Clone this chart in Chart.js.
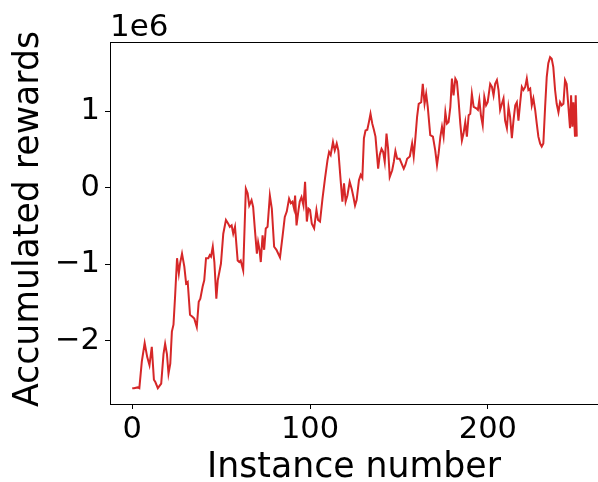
<!DOCTYPE html>
<html>
<head>
<meta charset="utf-8">
<script src="https://cdn.jsdelivr.net/npm/chart.js@4"></script>
<style>
    html, body { margin: 0; padding: 0; background: #fff; overflow: hidden; }
</style>
</head>
<body>
<canvas id="rewardsChart" width="610" height="482"></canvas>
<script>
// instance number of each sample
const instances = [
    0, 1, 3, 4, 5.4, 7, 8.4, 9.7, 11, 12.2, 13, 14.4, 16.3, 17.6, 18.5, 19.5, 20.4, 21.4, 22.3, 23.2,
    24.1, 25.2, 26.2, 26.9, 28, 29.3, 30.3, 31.2, 32.5, 34, 34.9, 36.3, 37.4, 38.3, 39.6, 40.5, 41.5, 42.8, 43.6, 44.3,
    45.3, 46.2, 47.3, 48.1, 49, 49.9, 51.2, 52.7, 54, 54.9, 55.9, 56.8, 57.8, 59.3, 60.2, 61, 62.4, 63.9, 64.9, 65.8,
    67.1, 68, 69, 70.1, 70.8, 71.6, 72.3, 73.3, 74.2, 75.1, 76.1, 77.4, 78.5, 79.8, 81.1, 83.1, 84.5, 85.8, 86.9, 88.2,
    89.2, 90.1, 91, 91.6, 92.4, 93.5, 94.2, 95.2, 96.3, 97.2, 98.2, 99.1, 100, 101, 102.3, 103.6, 104.5, 105.6, 107, 108.4,
    109.8, 110.7, 111.6, 112.9, 113.9, 115, 115.9, 117.2, 118.2, 119.1, 120, 121, 122.3, 123.4, 124.4, 125.3, 126.2, 127.5, 128.5, 129.4,
    130.3, 131.2, 132.2, 133.1, 134, 135, 135.9, 136.8, 138.3, 139.2, 140.2, 141.1, 142, 143, 143.9, 144.8, 146.2, 147.1, 148, 149,
    150.4, 151.8, 152.7, 153.6, 154.6, 156.1, 157.4, 158.3, 159.3, 160.2, 161.1, 162.5, 163.4, 164.4, 165.3, 166.2, 167.6, 169.1, 170.4, 171.4,
    172.3, 173.3, 174.2, 175.1, 176.1, 177, 177.9, 178.9, 179.8, 180.7, 181.7, 182.6, 183.5, 184.5, 185.4, 186.3, 187.3, 188.2, 189.2, 190.1,
    191, 192, 193.5, 194.4, 195.2, 196.1, 197.1, 198, 199, 199.9, 201.3, 202.3, 203.2, 204.1, 205.1, 206, 206.9, 207.9, 208.8, 209.7,
    210.7, 211.6, 212.5, 213.5, 214.4, 215.4, 216.3, 217.2, 218.2, 219.1, 220, 221, 221.9, 222.8, 223.8, 224.7, 225.6, 226.6, 227.5, 228.4,
    229.4, 230.3, 231.2, 232.2, 233.1, 234, 235, 235.9, 236.8, 237.8, 238.7, 239.7, 240.6, 241.5, 242.5, 243.4, 244.3, 245.3, 246.2, 246.8,
    247.5, 248.1, 249, 249.4, 250
];

// accumulated rewards, in units of 1e6
const rewards = [
    -2.62, -2.62, -2.61, -2.62, -2.27, -2.03, -2.21, -2.32, -2.08, -2.51, -2.54, -2.62, -2.56, -2.17, -2.04, -2.17, -2.43, -2.30, -1.88, -1.79,
    -1.42, -0.92, -1.12, -0.99, -0.86, -1.03, -1.25, -1.23, -1.66, -1.69, -1.71, -1.82, -1.49, -1.45, -1.29, -1.21, -0.92, -0.92, -0.88, -0.90,
    -0.77, -0.97, -1.45, -1.21, -1.10, -0.99, -0.60, -0.42, -0.47, -0.51, -0.49, -0.60, -0.51, -0.95, -0.97, -0.95, -1.08, -0.01, -0.07, -0.23,
    -0.16, -0.25, -0.55, -0.86, -0.71, -0.81, -0.97, -0.62, -0.81, -0.53, -0.51, -0.10, -0.27, -0.77, -0.81, -0.91, -0.64, -0.38, -0.31, -0.14,
    -0.20, -0.18, -0.27, -0.10, -0.49, -0.29, -0.18, -0.12, -0.23, 0.08, -0.44, -0.27, -0.29, -0.47, -0.53, -0.29, -0.42, -0.44, -0.14, 0.12,
    0.36, 0.47, 0.43, 0.60, 0.49, 0.58, 0.49, 0.10, -0.18, 0.06, -0.18, -0.10, 0.08, -0.01, -0.12, -0.23, -0.16, 0.10, 0.17, 0.13,
    0.65, 0.75, 0.76, 0.86, 0.97, 0.84, 0.76, 0.67, 0.25, 0.43, 0.51, 0.47, 0.34, 0.71, 0.51, 0.14, 0.23, 0.34, 0.48, 0.38,
    0.38, 0.30, 0.25, 0.30, 0.38, 0.41, 0.58, 0.41, 0.67, 0.93, 1.10, 1.12, 1.36, 1.10, 1.23, 1.06, 0.69, 0.67, 0.49, 0.30,
    0.45, 0.67, 0.80, 0.67, 0.99, 0.84, 0.86, 1.06, 1.43, 1.21, 1.43, 1.39, 1.15, 0.84, 0.62, 0.71, 0.86, 0.67, 0.95, 0.97,
    1.23, 1.06, 1.04, 1.02, 1.15, 0.95, 0.82, 1.19, 1.08, 1.12, 1.36, 1.32, 1.21, 1.36, 1.41, 1.28, 1.02, 1.10, 1.17, 0.88,
    0.78, 1.06, 0.93, 0.65, 0.88, 1.08, 1.12, 0.88, 1.12, 1.32, 1.28, 1.32, 1.43, 1.28, 1.30, 1.08, 1.17, 1.02, 0.84, 0.67,
    0.58, 0.54, 0.58, 1.06, 1.45, 1.63, 1.71, 1.69, 1.58, 1.28, 1.10, 0.99, 1.12, 1.08, 1.10, 1.41, 1.36, 1.06, 0.78, 1.21,
    0.80, 1.12, 0.67, 1.21, 0.67
];

const xTicks = [0, 100, 200];
const yTicks = [-2, -1, 0, 1];

const FONT = 'DejaVu Sans';

// axis titles and the "1e6" offset label, placed like the matplotlib figure
const labelsPlugin = {
    id: 'labels',
    afterDraw(chart) {
        const ctx = chart.ctx;
        const area = chart.chartArea;
        ctx.save();
        ctx.fillStyle = '#000';

        // top spine
        ctx.strokeStyle = '#000';
        ctx.lineWidth = 1;
        ctx.beginPath();
        ctx.moveTo(area.left, area.top + 0.5);
        ctx.lineTo(area.right, area.top + 0.5);
        ctx.stroke();

        ctx.font = '31px "' + FONT + '"';
        ctx.textAlign = 'left';
        ctx.textBaseline = 'alphabetic';
        ctx.fillText('1e6', 110, 36);

        ctx.font = '34.7px "' + FONT + '"';
        ctx.textAlign = 'center';
        ctx.fillText('Instance number', 354, 477);

        ctx.translate(38, 219);
        ctx.rotate(-Math.PI / 2);
        ctx.fillText('Accumulated rewards', 0, 0);
        ctx.restore();
    }
};

const ctx = document.getElementById('rewardsChart').getContext('2d');
const rewardsChart = new Chart(ctx, {
    type: 'line',
    data: {
        datasets: [{
            data: instances.map((x, i) => ({ x: x, y: rewards[i] })),
            borderColor: '#d62728',
            borderWidth: 2,
            pointRadius: 0,
            tension: 0,
            fill: false
        }]
    },
    options: {
        responsive: false,
        animation: false,
        devicePixelRatio: 1,
        layout: {
            padding: { top: 42, right: 11, left: 0, bottom: 0 }
        },
        plugins: {
            legend: { display: false },
            tooltip: { enabled: false }
        },
        scales: {
            x: {
                type: 'linear',
                min: -12.5,
                max: 262.5,
                afterBuildTicks: scale => { scale.ticks = xTicks.map(v => ({ value: v })); },
                afterFit: scale => { scale.height = 78; },
                border: { display: true, color: '#000', width: 1 },
                grid: { display: true, drawOnChartArea: false, drawTicks: true, tickLength: 5, color: '#000' },
                ticks: {
                    autoSkip: false,
                    maxRotation: 0,
                    padding: 3,
                    color: '#000',
                    font: { family: FONT, size: 30.5 }
                }
            },
            y: {
                type: 'linear',
                min: -2.827,
                max: 1.908,
                afterBuildTicks: scale => { scale.ticks = yTicks.map(v => ({ value: v })); },
                afterFit: scale => { scale.width = 110; },
                border: { display: true, color: '#000', width: 1 },
                grid: { display: true, drawOnChartArea: false, drawTicks: true, tickLength: 5, color: '#000' },
                ticks: {
                    padding: 5,
                    color: '#000',
                    font: { family: FONT, size: 30.5 },
                    callback: value => (value < 0 ? '\u2212' + Math.abs(value) : String(value))
                }
            }
        }
    },
    plugins: [labelsPlugin]
});
</script>
</body>
</html>
